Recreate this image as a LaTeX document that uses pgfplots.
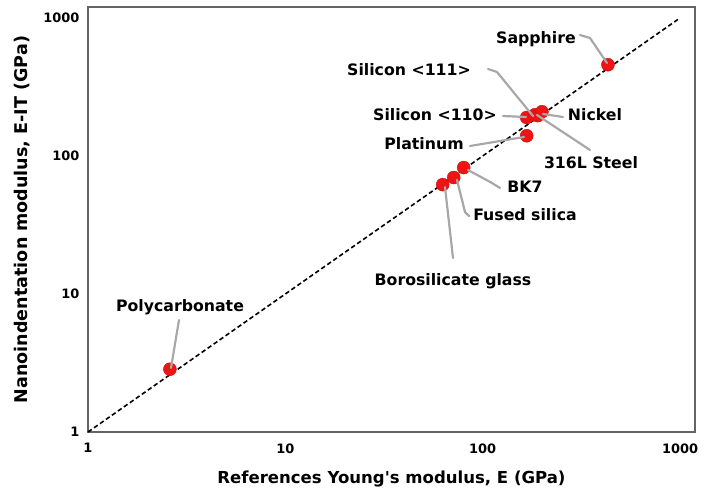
\documentclass[border=0pt]{standalone}
\usepackage{fontspec}
\setmainfont{DejaVu Sans}[Ligatures=TeXOff]
\usepackage{pgfplots}
\pgfplotsset{compat=1.18}
\definecolor{boxgray}{RGB}{100,100,100}
\definecolor{leader}{RGB}{168,168,168}
\definecolor{ptred}{RGB}{238,20,20}
\begin{document}
\begin{tikzpicture}
\begin{axis}[
  scale only axis, width=607bp, height=425bp,
  xmode=log, ymode=log,
  xmin=1, xmax=1190, ymin=1, ymax=1200,
  axis line style={boxgray, line width=2.2bp},
  xtick={1,10,100,1000}, ytick={1,10,100,1000},
  xticklabels={1,10,100,1000}, yticklabels={1,10,100,1000},
  major tick length=0pt, minor tick length=0pt,
  minor xtick={}, minor ytick={},
  /pgf/number format/assume math mode=true,
  tick label style={font=\fontsize{13}{15}\selectfont\bfseries},
  xticklabel style={yshift=-8bp},
  yticklabel style={xshift=-5bp},
  xlabel={References Young's modulus, E (GPa)},
  ylabel={Nanoindentation modulus, E-IT (GPa)},
  xlabel style={font=\fontsize{16.6}{19}\selectfont\bfseries, at={(axis description cs:0.5,-0.11)}, anchor=center},
  ylabel style={font=\fontsize{17.6}{20}\selectfont\bfseries, at={(axis description cs:-0.1087,0.5)}, anchor=center},
  clip=false,
]
\addplot[only marks, mark=*, mark size=6.5bp,
  mark options={fill=ptred, draw=ptred!85!black, line width=0.4bp}]
  table {
x y
2.6 2.85
62.7 62
71.3 69.8
80.1 82.4
167 140
167 190
184 199
190 196
199.5 209
431 458
};
\addplot[black, line width=1.6bp, dash pattern=on 4.5bp off 2.8bp]
  coordinates {(1,1) (1000,1000)};
\end{axis}
\begin{scope}[shift={(current axis.south west)}, x=1bp, y=-1bp, shift={(-88,-432)},
  lead/.style={leader, line width=2.2bp, line join=round, line cap=round},
  lab/.style={font=\fontsize{15.8}{18}\selectfont\bfseries, inner sep=0pt,
    text height=0.72em, text depth=0pt, anchor=center}]
  \draw[lead] (580,35) -- (590,38) -- (607,63);
  \draw[lead] (488,69) -- (497,72) -- (533,116);
  \draw[lead] (503,116) -- (526,117);
  \draw[lead] (563,117) -- (543,114);
  \draw[lead] (537,115) -- (590,150);
  \draw[lead] (470,146) -- (488,143) -- (524,137);
  \draw[lead] (500,188) -- (492,183) -- (468,170);
  \draw[lead] (469,216) -- (465,212) -- (457,180);
  \draw[lead] (453,258) -- (445,187);
  \draw[lead] (179,320) -- (171,368);
  \node[lab] at (536,40) {Sapphire};
  \node[lab] at (409,72) {Silicon <111>};
  \node[lab] at (435,117) {Silicon <110>};
  \node[lab] at (595,117) {Nickel};
  \node[lab] at (424,146) {Platinum};
  \node[lab] at (591,165) {316L Steel};
  \node[lab] at (525,189) {BK7};
  \node[lab] at (525,217) {Fused silica};
  \node[lab] at (453,282) {Borosilicate glass};
  \node[lab] at (180,308) {Polycarbonate};
\end{scope}
\pgfresetboundingbox
\path[use as bounding box] ([shift={(-88bp,-56bp)}]current axis.south west) rectangle ([shift={(14bp,7bp)}]current axis.north east);
\end{tikzpicture}
\end{document}
